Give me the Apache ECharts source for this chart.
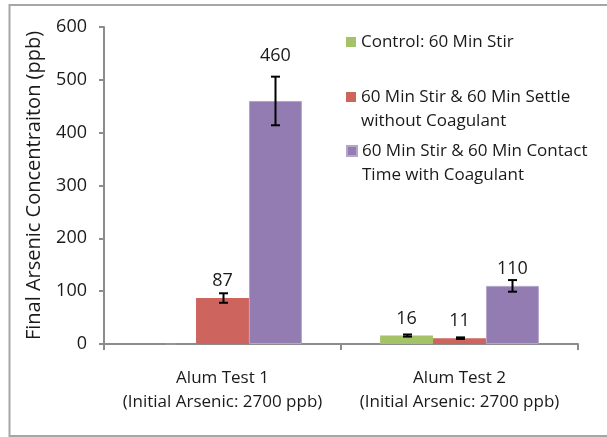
<!DOCTYPE html>
<html><head><meta charset="utf-8">
<script src="https://cdn.jsdelivr.net/npm/echarts@6/dist/echarts.min.js"></script>
<style>html,body{margin:0;padding:0;background:#fff}#c{width:607px;height:437px}</style>
</head><body><div id="c"></div>
<script>
const categories = ['Alum Test 1\n(Initial Arsenic: 2700 ppb)', 'Alum Test 2\n(Initial Arsenic: 2700 ppb)'];
const seriesNames = ['Control: 60 Min Stir', '60 Min Stir & 60 Min Settle\nwithout Coagulant', '60 Min Stir & 60 Min Contact\nTime with Coagulant'];
const controlValues = [0, 16];
const settleValues = [87, 11];
const coagValues = [460, 110];
const controlErrors = [0, 2];
const settleErrors = [9, 1.5];
const coagErrors = [46, 11];
const yAxisTitle = 'Final Arsenic Concentraiton (ppb)';
const colors = ['#A4C268', '#CD655E', '#927CB2'];

const FONT = 'Open Sans';
const chart = echarts.init(document.getElementById('c'), null, {renderer: 'canvas'});

function barItems(values) {
  return values.map((v) => ({
    value: v,
    label: {show: v > 0, distance: (v > 300 ? 36 : 8)}
  }));
}
function errSeries(values, errors, slot) {
  return {
    type: 'custom', coordinateSystem: 'cartesian2d', z: 10, silent: true,
    data: values.map((v, i) => [i, v, errors[i]]),
    renderItem: function (params, api) {
      const cat = api.value(0), v = api.value(1), e = api.value(2);
      const catW = api.size([1, 0])[0];
      const barW = catW * (1 - 0.33) / 3;
      const c = api.coord([cat, v]);
      const x = Math.round(c[0] + (slot - 1) * barW) + 0.5;
      const top = api.coord([cat, v + e])[1];
      const bot = api.coord([cat, v - e])[1];
      const hw = 4.5;
      const st = {stroke: e > 0 ? '#000' : '#999', lineWidth: e > 0 ? 2 : 1, fill: null};
      return {type: 'group', children: [
        {type: 'line', shape: {x1: x, y1: top, x2: x, y2: bot}, style: st},
        {type: 'line', shape: {x1: x - hw, y1: top, x2: x + hw, y2: top}, style: st},
        {type: 'line', shape: {x1: x - hw, y1: bot, x2: x + hw, y2: bot}, style: st}
      ]};
    }
  };
}
const legendBase = {
  orient: 'vertical', left: 346, padding: 0, icon: 'rect', itemWidth: 10, itemHeight: 10,
  selectedMode: false,
  formatter: function (name) { return name.indexOf('\n') >= 0 ? '\n' + name : name; },
  textStyle: {fontFamily: FONT, fontSize: 17, color: '#1a1a1a', lineHeight: 24}
};
const barLabel = {show: true, position: 'top', fontFamily: FONT, fontSize: 18, color: '#1a1a1a'};

chart.setOption({
  animation: false,
  color: colors,
  graphic: [{type: 'rect', shape: {x: 9.5, y: 5, width: 640, height: 431}, style: {fill: null, stroke: '#a6a6a6', lineWidth: 2}, silent: true}],
  grid: {left: 104, right: 29, top: 27, bottom: 93, containLabel: false},
  legend: [
    Object.assign({}, legendBase, {top: 30, data: [seriesNames[0]]}),
    Object.assign({}, legendBase, {top: 61, data: [seriesNames[1]]}),
    Object.assign({}, legendBase, {top: 115, data: [seriesNames[2]]})
  ],
  xAxis: {
    type: 'category', data: categories,
    axisLine: {lineStyle: {color: '#8c8c8c', width: 2}},
    axisTick: {show: true, interval: 0, length: 6, lineStyle: {color: '#8c8c8c', width: 2}},
    axisLabel: {interval: 0, hideOverlap: false, fontFamily: FONT, fontSize: 17, color: '#1a1a1a', lineHeight: 24, margin: 22}
  },
  yAxis: {
    type: 'value', min: 0, max: 600, interval: 100,
    name: yAxisTitle, nameLocation: 'middle', nameGap: 60, nameRotate: 90,
    nameTextStyle: {fontFamily: FONT, fontSize: 20, color: '#1a1a1a'},
    splitLine: {show: false},
    axisLine: {show: true, lineStyle: {color: '#8c8c8c', width: 2}},
    axisTick: {show: true, length: 5, lineStyle: {color: '#8c8c8c', width: 2}},
    axisLabel: {fontFamily: FONT, fontSize: 18, color: '#1a1a1a', margin: 17}
  },
  series: [
    {type: 'bar', name: seriesNames[0], data: barItems(controlValues), barGap: '0%', barCategoryGap: '33%', label: barLabel},
    {type: 'bar', name: seriesNames[1], data: barItems(settleValues), barGap: '0%', barCategoryGap: '33%', label: barLabel},
    {type: 'bar', name: seriesNames[2], data: barItems(coagValues), barGap: '0%', barCategoryGap: '33%', label: barLabel, itemStyle: {borderColor: '#b3a5cc', borderWidth: 1}},
    errSeries(controlValues, controlErrors, 0),
    errSeries(settleValues, settleErrors, 1),
    errSeries(coagValues, coagErrors, 2)
  ]
});
</script></body></html>
